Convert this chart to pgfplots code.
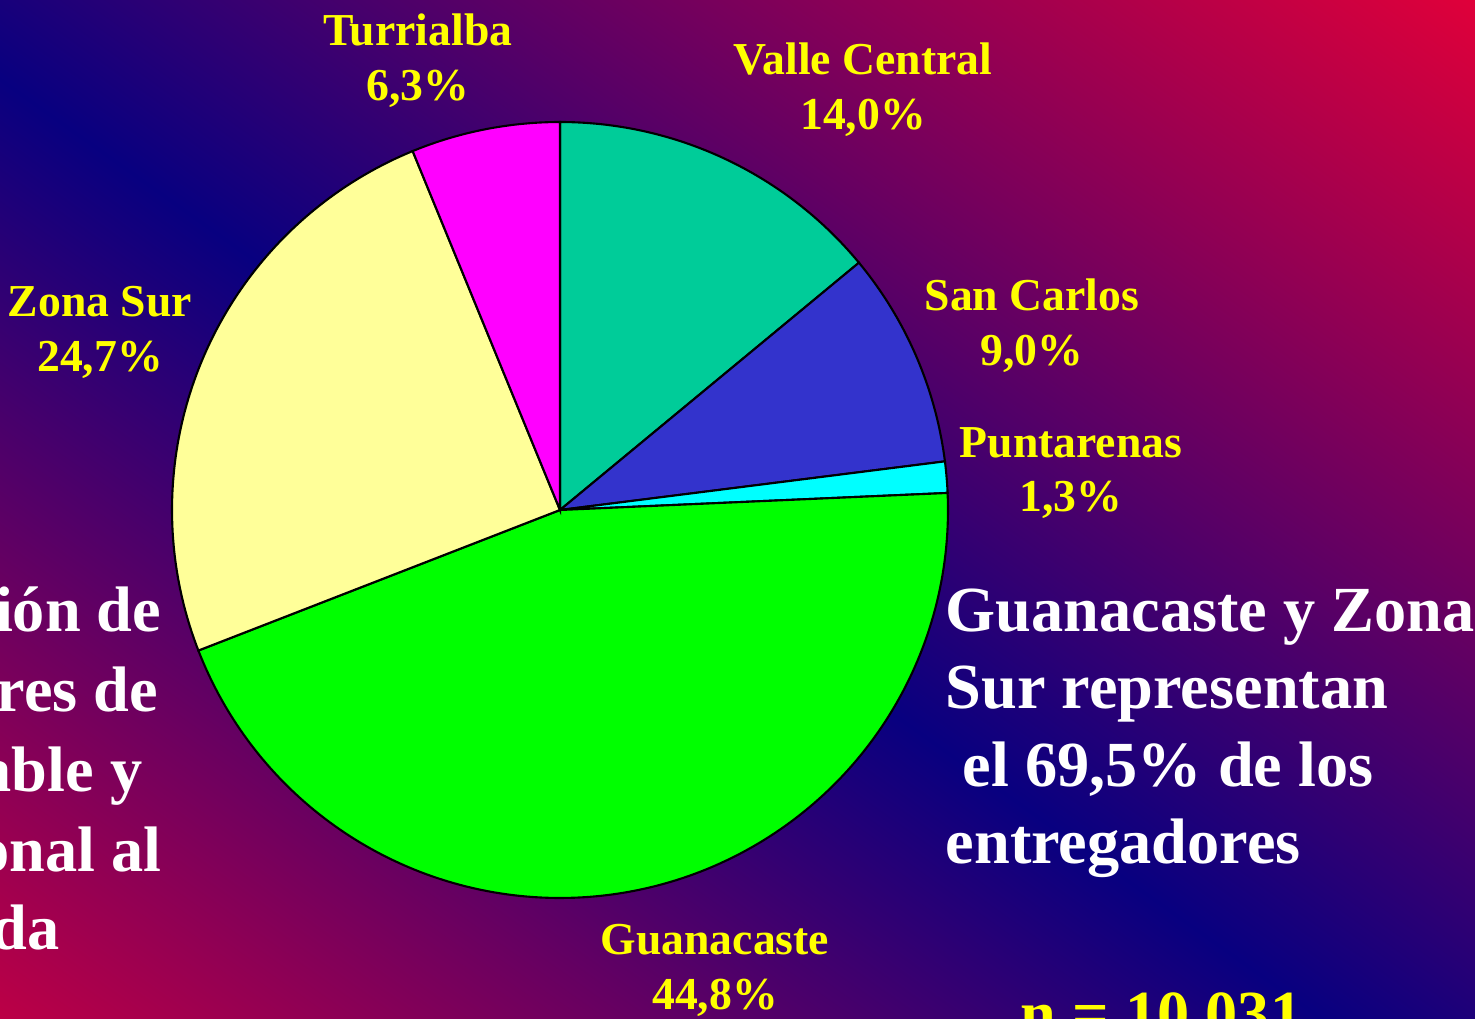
\documentclass[border=0pt]{standalone}
\usepackage{pgfplots}
\pgfplotsset{compat=1.18}
\usepackage{fontspec}
\setmainfont{Liberation Serif}
\definecolor{bgred}{RGB}{224,0,58}
\definecolor{bgnavy}{RGB}{8,0,128}
\definecolor{cVC}{RGB}{0,204,153}
\definecolor{cSC}{RGB}{51,51,204}
\definecolor{cPU}{RGB}{0,255,255}
\definecolor{cGU}{RGB}{0,255,0}
\definecolor{cZS}{RGB}{255,255,153}
\definecolor{cTU}{RGB}{255,0,255}
\definecolor{lab}{RGB}{255,255,0}
\pgfdeclarehorizontalshading{bgshade}{40cm}{color(0cm)=(bgred); color(2cm)=(bgred); color(11.2cm)=(bgnavy); color(20.4cm)=(bgred); color(22.4cm)=(bgred)}
\newcommand{\lblfont}{\fontsize{13}{15.6}\selectfont\bfseries}
\newcommand{\bigfont}{\fontsize{18.3}{21.8}\selectfont\bfseries}
\begin{document}
\begin{tikzpicture}
\useasboundingbox (0,0) rectangle (14.75,10.19);
\begin{scope}
\clip (0,0) rectangle (14.75,10.19);
\node[inner sep=0pt, rotate=54.6] at (7.37,4.16) {\pgfuseshading{bgshade}};
\begin{axis}[at={(5.60cm,5.09cm)}, anchor=center, scale only axis,
  width=7.76cm, height=7.76cm, xmin=-1, xmax=1, ymin=-1, ymax=1,
  hide axis, clip=false]
% shares (%) clockwise from 12 o'clock; angle span = 3.6 * share
% Valle Central 14.0
\addplot[fill=cVC, draw=black, line width=0.6pt, domain=39.6:90, samples=60] ({cos(x)},{sin(x)}) -- (axis cs:0,0) -- cycle;
% San Carlos 9.0
\addplot[fill=cSC, draw=black, line width=0.6pt, domain=7.2:39.6, samples=40] ({cos(x)},{sin(x)}) -- (axis cs:0,0) -- cycle;
% Puntarenas 1.3
\addplot[fill=cPU, draw=black, line width=0.6pt, domain=2.52:7.2, samples=10] ({cos(x)},{sin(x)}) -- (axis cs:0,0) -- cycle;
% Guanacaste 44.8
\addplot[fill=cGU, draw=black, line width=0.6pt, domain=-158.76:2.52, samples=160] ({cos(x)},{sin(x)}) -- (axis cs:0,0) -- cycle;
% Zona Sur 24.7
\addplot[fill=cZS, draw=black, line width=0.6pt, domain=-247.68:-158.76, samples=90] ({cos(x)},{sin(x)}) -- (axis cs:0,0) -- cycle;
% Turrialba 6.3
\addplot[fill=cTU, draw=black, line width=0.6pt, domain=-270:-247.68, samples=30] ({cos(x)},{sin(x)}) -- (axis cs:0,0) -- cycle;
\end{axis}
% slice labels
\node[text=lab, align=center, font=\lblfont] at (4.18,9.585) {Turrialba\\6,3\%};
\node[text=lab, align=center, font=\lblfont] at (8.63,9.295) {Valle Central\\14,0\%};
\node[text=lab, align=center, font=\lblfont] at (10.32,6.935) {San Carlos\\9,0\%};
\node[text=lab, align=center, font=\lblfont] at (10.71,5.46) {Puntarenas\\1,3\%};
\node[text=lab, align=center, font=\lblfont] at (1.00,6.865) {Zona Sur\\24,7\%};
\node[text=lab, align=center, font=\lblfont] at (7.15,0.485) {Guanacaste\\44,8\%};
% right text
\node[text=white, anchor=base west, inner sep=0pt, font=\bigfont] at (9.45,3.87) {Guanacaste y Zona};
\node[text=white, anchor=base west, inner sep=0pt, font=\bigfont] at (9.45,3.10) {Sur representan};
\node[text=white, anchor=base west, inner sep=0pt, font=\bigfont] at (9.62,2.32) {el 69,5\% de los};
\node[text=white, anchor=base west, inner sep=0pt, font=\bigfont] at (9.45,1.55) {entregadores};
\node[text=lab, anchor=base west, inner sep=0pt, font=\bigfont] at (10.20,-0.16) {n = 10.031};
% left text (cut by the frame)
\node[text=white, anchor=base east, inner sep=0pt, font=\bigfont] at (1.62,3.87) {ión de};
\node[text=white, anchor=base east, inner sep=0pt, font=\bigfont] at (1.59,3.07) {res de};
\node[text=white, anchor=base east, inner sep=0pt, font=\bigfont] at (1.43,2.27) {able y};
\node[text=white, anchor=base east, inner sep=0pt, font=\bigfont] at (1.62,1.47) {onal al};
\node[text=white, anchor=base east, inner sep=0pt, font=\bigfont] at (0.60,0.69) {da};
\end{scope}
\end{tikzpicture}
\end{document}
